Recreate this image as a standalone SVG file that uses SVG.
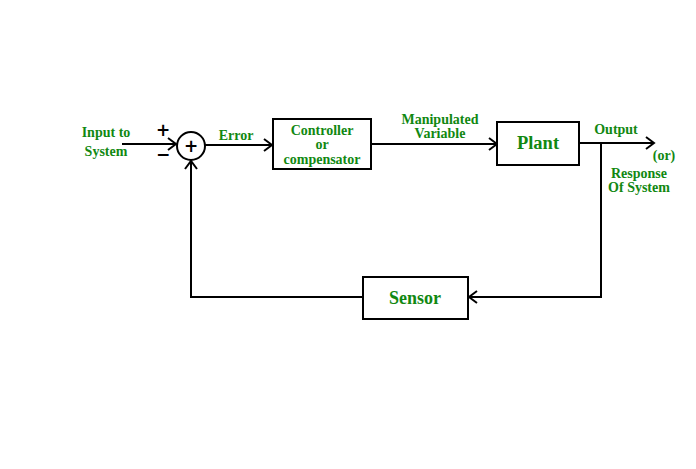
<svg xmlns="http://www.w3.org/2000/svg" width="696" height="469" viewBox="0 0 696 469">
<style>
.box{fill:#fff;stroke:#000;stroke-width:2}
.ln{fill:none;stroke:#000;stroke-width:2}
.t{font-family:"Liberation Serif","DejaVu Serif",serif;font-weight:bold;fill:#118811;text-anchor:middle;font-size:14px}
.s{font-family:"DejaVu Sans","Liberation Sans",sans-serif;font-weight:bold;fill:#000;text-anchor:middle;font-size:17px}
</style>
<defs>
<marker id="a" markerWidth="12" markerHeight="14" refX="10" refY="7" orient="auto" markerUnits="userSpaceOnUse">
<path d="M2,1 L10,7 L2,13" fill="none" stroke="#000" stroke-width="2"/>
</marker>
</defs>
<rect width="696" height="469" fill="#fff"/>
<g id="connectors">
<line class="ln" x1="122" y1="144" x2="176" y2="144" marker-end="url(#a)"/>
<line class="ln" x1="205" y1="145" x2="272" y2="145" marker-end="url(#a)"/>
<line class="ln" x1="371" y1="144" x2="497" y2="144" marker-end="url(#a)"/>
<line class="ln" x1="579" y1="143" x2="654" y2="143" marker-end="url(#a)"/>
<polyline class="ln" points="601,143 601,297 469,297" marker-end="url(#a)"/>
<polyline class="ln" points="363,297 191,297 191,161" marker-end="url(#a)"/>
</g>
<g id="sum">
<circle cx="191" cy="146" r="14" class="box"/>
<text class="s" x="191" y="152">+</text>
<text class="s" x="163" y="136">+</text>
<text class="s" x="163" y="160">−</text>
</g>
<g id="input">
<text class="t" x="106" y="137">Input to</text>
<text class="t" x="106" y="156">System</text>
</g>
<g id="error"><text class="t" x="236" y="140">Error</text></g>
<g id="controller">
<rect class="box" x="273" y="119" width="98" height="50"/>
<text class="t" x="322" y="135">Controller</text>
<text class="t" x="322" y="149">or</text>
<text class="t" x="322" y="164">compensator</text>
</g>
<g id="manipulated">
<text class="t" x="440" y="124">Manipulated</text>
<text class="t" x="440" y="138">Variable</text>
</g>
<g id="plant">
<rect class="box" x="497" y="122" width="82" height="43"/>
<text class="t" x="538" y="149" style="font-size:18.5px">Plant</text>
</g>
<g id="output">
<text class="t" x="616" y="134">Output</text>
<text class="t" x="664" y="160">(or)</text>
<text class="t" x="639" y="178">Response</text>
<text class="t" x="639" y="192">Of System</text>
</g>
<g id="sensor">
<rect class="box" x="363" y="277" width="105" height="42"/>
<text class="t" x="415" y="304" style="font-size:18px">Sensor</text>
</g>
</svg>
